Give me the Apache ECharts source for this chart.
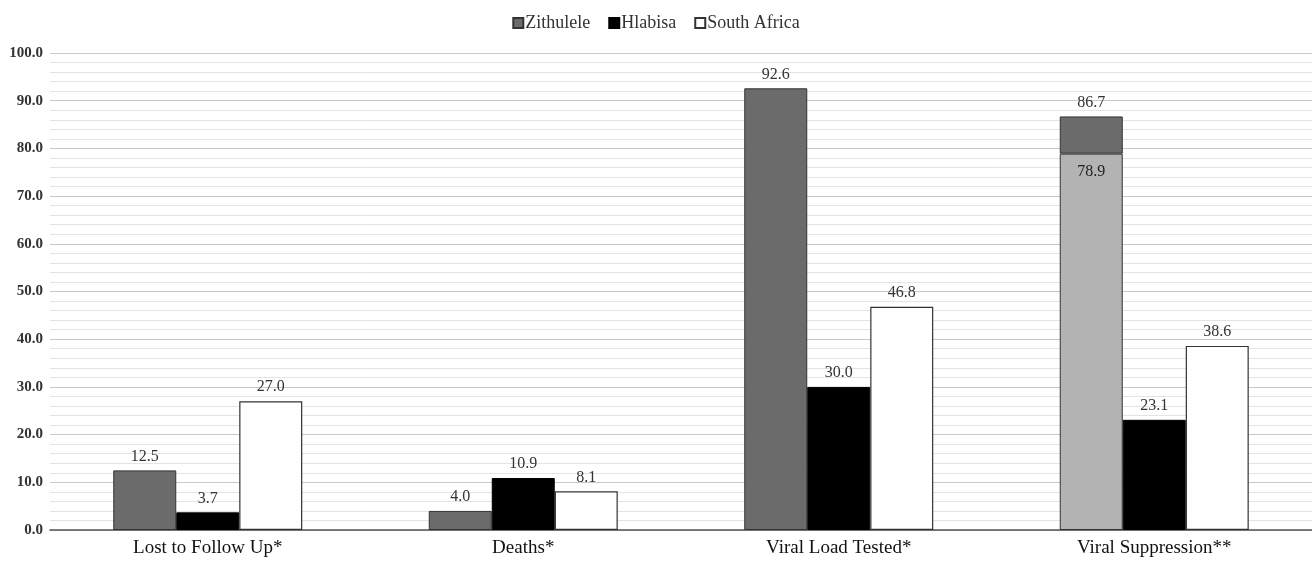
<!DOCTYPE html>
<html>
<head>
<meta charset="utf-8">
<script src="https://cdn.jsdelivr.net/npm/echarts@6/dist/echarts.min.js"></script>
<style>html,body{margin:0;padding:0;background:#fff}#c{width:1312px;height:562px}</style>
</head>
<body>
<div id="c"></div>
<script>
const categories = ['Lost to Follow Up*', 'Deaths*', 'Viral Load Tested*', 'Viral Suppression**'];
const zithulele = [12.5, 4.0, 92.6, 86.7];
const zithuleleSuppressed = [null, null, null, 78.9];
const hlabisa = [3.7, 10.9, 30.0, 23.1];
const southAfrica = [27.0, 8.1, 46.8, 38.6];

const FONT = '"Liberation Serif", "DejaVu Serif", serif';
const zTop = zithulele.map((v, i) => zithuleleSuppressed[i] != null ? +(v - zithuleleSuppressed[i]).toFixed(1) : v);

const labelTop = (arr) => ({
  show: true, position: 'top', distance: 6,
  fontFamily: FONT, fontSize: 16, color: '#333',
  formatter: p => arr[p.dataIndex].toFixed(1)
});

const chart = echarts.init(document.getElementById('c'));
chart.setOption({
  animation: false,
  backgroundColor: '#fff',
  legend: {
    data: ['Zithulele', 'Hlabisa', 'South Africa'],
    top: 9, left: 'center',
    itemWidth: 10, itemHeight: 10, itemGap: 18,
    icon: 'rect',
    textStyle: { fontFamily: FONT, fontSize: 18, color: '#333', padding: [0, 0, 0, -3] }
  },
  grid: { left: 50, right: 0, top: 53, bottom: 32, containLabel: false },
  xAxis: {
    type: 'category', data: categories,
    axisLine: { show: true, lineStyle: { color: '#555', width: 1.5 } },
    axisTick: { show: false },
    axisLabel: { fontFamily: FONT, fontSize: 19, color: '#111', margin: 9 }
  },
  yAxis: {
    type: 'value', min: 0, max: 100, interval: 10,
    axisLine: { show: false }, axisTick: { show: false },
    axisLabel: { fontFamily: FONT, fontSize: 15, fontWeight: 'bold', color: '#333', margin: 7, formatter: v => v.toFixed(1) },
    splitLine: { show: true, lineStyle: { color: '#c8c8c8', width: 1.2 } },
    minorTick: { show: false, splitNumber: 5 },
    minorSplitLine: { show: true, lineStyle: { color: '#e4e4e4', width: 1 } }
  },
  series: [
    {
      name: 'ZithuleleBase', type: 'bar', stack: 'z', barWidth: 63, barGap: '0%',
      data: zithuleleSuppressed,
      itemStyle: { color: '#b3b3b3', borderColor: '#333', borderWidth: 1 },
      label: { show: true, position: 'insideTop', distance: 10, fontFamily: FONT, fontSize: 16, color: '#222',
        formatter: p => p.value == null ? '' : zithuleleSuppressed[p.dataIndex].toFixed(1) }
    },
    {
      name: 'Zithulele', type: 'bar', stack: 'z', barWidth: 63, barGap: '0%',
      data: zTop,
      itemStyle: { color: '#6b6b6b', borderColor: '#333', borderWidth: 1 },
      label: labelTop(zithulele)
    },
    {
      name: 'Hlabisa', type: 'bar', barWidth: 63, barGap: '0%',
      data: hlabisa,
      itemStyle: { color: '#000', borderColor: '#000', borderWidth: 1 },
      label: labelTop(hlabisa)
    },
    {
      name: 'South Africa', type: 'bar', barWidth: 63, barGap: '0%',
      data: southAfrica,
      itemStyle: { color: '#fff', borderColor: '#333', borderWidth: 1.2 },
      label: labelTop(southAfrica)
    }
  ]
});
</script>
</body>
</html>
